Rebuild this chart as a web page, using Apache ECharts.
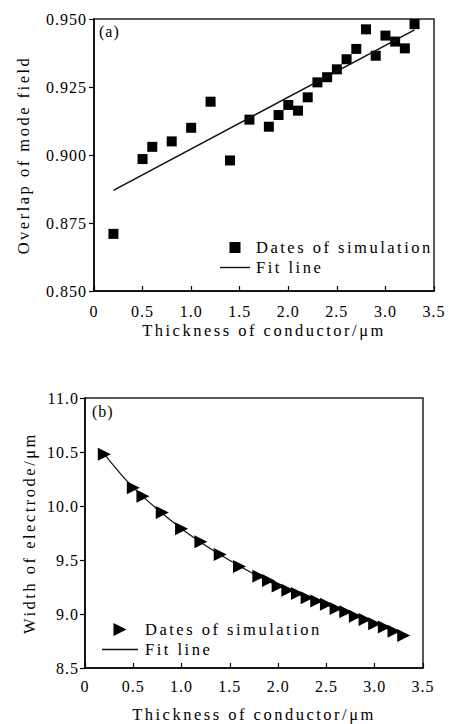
<!DOCTYPE html>
<html>
<head>
<meta charset="utf-8">
<script src="https://cdn.jsdelivr.net/npm/echarts@6/dist/echarts.min.js"></script>
<style>
  html, body { margin: 0; padding: 0; background: #fff; }
  #chart { width: 451px; height: 724px; }
  #chart text { letter-spacing: 1px; font-family: 'Liberation Serif', serif !important; }
  #chart text[style*="16.5px"] { letter-spacing: 2.5px; }
</style>
</head>
<body>
<div id="chart"></div>
<script>
// thickness of conductor (um), same for both panels
var thickness = [0.2, 0.5, 0.6, 0.8, 1.0, 1.2, 1.4, 1.6, 1.8, 1.9, 2.0, 2.1, 2.2, 2.3, 2.4, 2.5, 2.6, 2.7, 2.8, 2.9, 3.0, 3.1, 3.2, 3.3];
// (a) overlap of mode field
var overlapSim = [0.871, 0.8985, 0.903, 0.905, 0.910, 0.9196, 0.898, 0.913, 0.9104, 0.9147, 0.9184, 0.9163, 0.9212, 0.9267, 0.9286, 0.9315, 0.9352, 0.939, 0.9462, 0.9365, 0.9439, 0.9417, 0.9392, 0.9481];
var overlapFitX = [0.2, 3.3];
var overlapFitY = [0.887, 0.946];
// (b) width of electrode
var widthSim = [10.48, 10.17, 10.09, 9.94, 9.79, 9.67, 9.55, 9.44, 9.35, 9.31, 9.26, 9.22, 9.19, 9.15, 9.12, 9.09, 9.05, 9.02, 8.98, 8.95, 8.91, 8.88, 8.84, 8.80];
var widthFitX = [0.2, 0.5, 1.0, 1.5, 2.0, 2.5, 3.0, 3.3];
var widthFitY = [10.48, 10.17, 9.79, 9.495, 9.26, 9.085, 8.91, 8.80];

var legendText = {
    simA: 'Dates of simulation', fitA: 'Fit line',
    simB: 'Dates of simulation', fitB: 'Fit line'
};

function pairs(xs, ys) {
    return xs.map(function (x, i) { return [x, ys[i]]; });
}

var font = 'Liberation Serif';
var ink = '#000';

// legend icons as paths so they keep their shape
var iconSquare = 'path://M0,0H10V10H0Z';
var iconTriRight = 'path://M0,0L10,5L0,10Z';
var iconLine = 'path://M0,0H30V1.4H0Z';

function xAxisOpt(idx, gap, margin) {
    return {
        type: 'value', gridIndex: idx, min: 0, max: 3.5, interval: 0.5,
        name: 'Thickness of conductor/\u03bcm', nameLocation: 'middle', nameGap: gap,
        nameTextStyle: { fontFamily: font, fontSize: 16.5, color: ink },
        axisLine: { show: true, onZero: false, lineStyle: { color: ink, width: 1.5 } },
        axisTick: { show: true, inside: true, length: 5, lineStyle: { color: ink, width: 1.2 } },
        axisLabel: {
            fontFamily: font, fontSize: 16, color: ink, margin: margin,
            formatter: function (v) { return v === 0 ? '0' : v.toFixed(1); }
        },
        splitLine: { show: false }
    };
}

function yAxisOpt(idx, name, min, max, step, digits, gap, margin) {
    return {
        type: 'value', gridIndex: idx, min: min, max: max, interval: step,
        name: name, nameLocation: 'middle', nameGap: gap,
        nameTextStyle: { fontFamily: font, fontSize: 16.5, color: ink },
        axisLine: { show: true, onZero: false, lineStyle: { color: ink, width: 1.5 } },
        axisTick: { show: true, inside: false, length: 5, lineStyle: { color: ink, width: 1.2 } },
        axisLabel: {
            fontFamily: font, fontSize: 16, color: ink, margin: margin,
            formatter: function (v) { return v.toFixed(digits); }
        },
        splitLine: { show: false }
    };
}

var chart = echarts.init(document.getElementById('chart'), null, { renderer: 'svg' });

var option = {
    animation: false,
    backgroundColor: '#fff',
    title: [
        { text: '(a)', left: 99, top: 23, padding: 0, textStyle: { fontFamily: font, fontSize: 16, fontWeight: 'normal', color: ink } },
        { text: '(b)', left: 92, top: 403, padding: 0, textStyle: { fontFamily: font, fontSize: 16, fontWeight: 'normal', color: ink } }
    ],
    grid: [
        { left: 94, right: 17, top: 19, height: 272, show: true, borderColor: '#222', borderWidth: 1.5, backgroundColor: 'transparent' },
        { left: 85, right: 28, top: 398, height: 272, show: true, borderColor: '#222', borderWidth: 1.5, backgroundColor: 'transparent' }
    ],
    xAxis: [xAxisOpt(0, 31, 12), xAxisOpt(1, 38, 10)],
    yAxis: [
        yAxisOpt(0, 'Overlap of mode field', 0.85, 0.95, 0.025, 3, 62, 7),
        yAxisOpt(1, 'Width of electrode/\u03bcm', 8.5, 11, 0.5, 1, 47, 6)
    ],
    legend: [
        {
            data: [{ name: 'simA', icon: iconSquare }, { name: 'fitA', icon: iconLine }],
            orient: 'vertical', left: 220, top: 239,
            itemWidth: 30, itemHeight: 11, itemGap: 3, padding: 0,
            symbolRotate: 0, symbolKeepAspect: true,
            itemStyle: { opacity: 1 },
            formatter: function (n) { return legendText[n]; },
            textStyle: { fontFamily: font, fontSize: 16.5, color: ink, padding: [0, 0, 0, 1] },
            selectedMode: false
        },
        {
            data: [{ name: 'simB', icon: iconTriRight }, { name: 'fitB', icon: iconLine }],
            orient: 'vertical', left: 102, top: 621,
            itemWidth: 36, itemHeight: 13, itemGap: 3, padding: 0,
            symbolRotate: 0, symbolKeepAspect: true,
            itemStyle: { opacity: 1 },
            formatter: function (n) { return legendText[n]; },
            textStyle: { fontFamily: font, fontSize: 16.5, color: ink, padding: [0, 0, 0, 2] },
            selectedMode: false
        }
    ],
    series: [
        {
            name: 'simA', type: 'scatter', xAxisIndex: 0, yAxisIndex: 0,
            symbol: 'rect', symbolSize: 10,
            itemStyle: { color: '#000', opacity: 1 },
            data: pairs(thickness, overlapSim)
        },
        {
            name: 'fitA', type: 'line', xAxisIndex: 0, yAxisIndex: 0,
            symbol: 'none', showSymbol: false,
            lineStyle: { color: '#111', width: 1.5 }, itemStyle: { color: '#111' },
            data: pairs(overlapFitX, overlapFitY)
        },
        {
            name: 'simB', type: 'scatter', xAxisIndex: 1, yAxisIndex: 1,
            symbol: 'triangle', symbolRotate: -90, symbolSize: 13,
            itemStyle: { color: '#000', opacity: 1 }, z: 3,
            data: pairs(thickness, widthSim)
        },
        {
            name: 'fitB', type: 'line', xAxisIndex: 1, yAxisIndex: 1,
            symbol: 'none', showSymbol: false, smooth: 0.3, z: 2,
            lineStyle: { color: '#111', width: 1.2 }, itemStyle: { color: '#111' },
            data: pairs(widthFitX, widthFitY)
        }
    ]
};

chart.setOption(option);
</script>
</body>
</html>
